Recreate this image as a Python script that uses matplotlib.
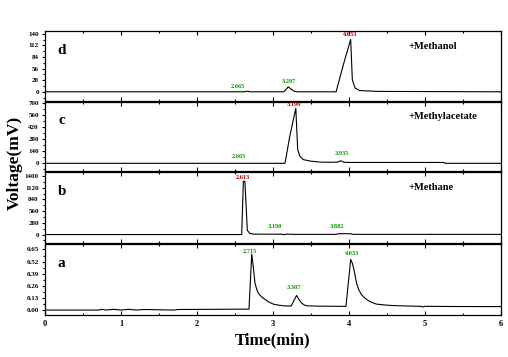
import matplotlib
matplotlib.use("Agg")
import matplotlib.pyplot as plt
from matplotlib.ticker import MultipleLocator

plt.rcParams['font.family'] = ['Liberation Serif', 'DejaVu Serif']
plt.rcParams['font.weight'] = 'bold'

# ---------------- data ----------------
# panel d : +Methanol
t_d = [0.0, 2.62, 2.665, 2.70, 3.14, 3.17, 3.20, 3.23, 3.27, 3.32, 3.83, 3.925, 4.022, 4.044, 4.08, 4.14, 4.38, 6.0]
v_d = [0.0, 0.0, 1.5, 0.0, 0.0, 5.0, 12.0, 8.0, 2.0, 0.0, 0.0, 65.0, 126.5, 29.0, 9.0, 3.0, 1.0, 0.0]

# panel c : +Methylacetate
t_c = [0.0, 3.158, 3.22, 3.30, 3.325, 3.355, 3.40, 3.49, 3.62, 3.75, 3.85, 3.89, 3.93, 3.97, 5.25, 5.26, 6.0]
v_c = [0.0, 0.0, 313.0, 643.0, 159.0, 81.0, 43.0, 26.0, 14.0, 12.0, 14.0, 30.0, 14.0, 10.0, 10.0, 0.0, 0.0]

# panel b : +Methane
t_b = [0.0, 2.588, 2.61, 2.63, 2.645, 2.662, 2.697, 2.75, 3.12, 3.15, 3.18, 3.21, 3.25, 3.83, 3.86, 4.02, 4.05, 6.0]
v_b = [0.0, 0.0, 1272.0, 1272.0, 735.0, 100.0, 24.0, 10.0, 8.0, -5.0, 14.0, 8.0, 5.0, 5.0, 20.0, 20.0, 5.0, 5.0]

# panel a
t_a = [0.0, 0.70, 0.75, 0.80, 0.90, 1.00, 1.10, 1.20, 1.30, 1.70, 1.75, 2.684, 2.72, 2.74, 2.763, 2.785,
       2.807, 2.84, 2.87, 2.92, 2.96, 3.004, 3.07, 3.135, 3.20, 3.24, 3.28, 3.31, 3.34, 3.375, 3.41,
       3.44, 3.60, 3.88, 3.96, 4.022, 4.045, 4.066, 4.085, 4.10, 4.13, 4.167, 4.21, 4.25, 4.30, 4.36,
       4.45, 4.54, 4.70, 4.95, 4.97, 4.99, 5.40, 5.94, 6.0]
v_a = [0.0, 0.0, 0.008, 0.0, 0.008, 0.0, 0.008, 0.0, 0.006, 0.0, 0.006, 0.01, 0.60, 0.466, 0.288, 0.225,
       0.181, 0.150, 0.128, 0.100, 0.080, 0.064, 0.053, 0.046, 0.043, 0.045, 0.110, 0.157, 0.115, 0.075, 0.056,
       0.046, 0.042, 0.040, 0.040, 0.543, 0.500, 0.430, 0.350, 0.288, 0.215, 0.163, 0.128, 0.103, 0.082, 0.064,
       0.056, 0.050, 0.045, 0.040, 0.032, 0.040, 0.038, 0.037, 0.037]

yt_d = [0, 28, 56, 84, 112, 140]
yt_c = [0, 140, 280, 420, 560, 700]
yt_b = [0, 280, 560, 840, 1120, 1400]
yt_a = [0.00, 0.13, 0.26, 0.39, 0.52, 0.65]
ytl_a = ['0.00', '0.13', '0.26', '0.39', '0.52', '0.65']

ylim_d = (-21, 147)
ylim_c = (-90, 723)
ylim_b = (-190, 1495)
ylim_a = (-0.053, 0.714)

# peak labels: (x, y, text, colour)
GREEN = '#009900'
RED = '#b00000'
lab_d = [(2.54, 12, '2.665', GREEN), (3.21, 24, '3.207', GREEN), (4.02, 139, '4.033', RED)]
lab_c = [(2.55, 85, '2.665', GREEN), (3.28, 690, '3.198', RED), (3.91, 115, '3.935', GREEN)]
lab_b = [(2.60, 1370, '2.613', RED), (3.02, 200, '3.190', GREEN), (3.84, 200, '3.882', GREEN)]
lab_a = [(2.70, 0.63, '2.715', GREEN), (3.28, 0.24, '3.307', GREEN), (4.035, 0.61, '4.033', GREEN)]

names = ['+Methanol', '+Methylacetate', '+Methane', '']
letters = ['d', 'c', 'b', 'a']

# ---------------- figure ----------------
W, H = 508, 357
fig = plt.figure(figsize=(W / 100, H / 100), dpi=100)

panels = [(31, 100.5), (101.5, 171), (172, 242.5), (243.5, 315)]
x0, x1 = 45, 501

data = [(t_d, v_d, yt_d, None, ylim_d, lab_d),
        (t_c, v_c, yt_c, None, ylim_c, lab_c),
        (t_b, v_b, yt_b, None, ylim_b, lab_b),
        (t_a, v_a, yt_a, ytl_a, ylim_a, lab_a)]

axes = []
for i, ((top, bot), (t, v, yt, ytl, yl, labs)) in enumerate(zip(panels, data)):
    ax = fig.add_axes([x0 / W, 1 - bot / H, (x1 - x0) / W, (bot - top) / H])
    ax.plot(t, v, color='black', lw=0.8)
    ax.set_xlim(0, 6)
    ax.set_ylim(*yl)
    ax.set_yticks(yt)
    if ytl is not None:
        ax.set_yticklabels(ytl)
    else:
        ax.set_yticklabels([str(y) for y in yt])
    ax.yaxis.set_minor_locator(MultipleLocator((yt[1] - yt[0]) / 2))
    ax.xaxis.set_major_locator(MultipleLocator(1))
    ax.xaxis.set_minor_locator(MultipleLocator(0.5))
    ax.tick_params(axis='x', which='both', direction='in', top=True, bottom=True, labelsize=6,
                   width=0.8)
    ax.tick_params(axis='x', which='major', length=3)
    ax.tick_params(axis='x', which='minor', length=1.5)
    ax.tick_params(axis='y', which='both', direction='out', labelsize=5, width=0.8, pad=2)
    ax.tick_params(axis='y', which='major', length=2.5)
    ax.tick_params(axis='y', which='minor', length=1.5)
    for lab in ax.get_yticklabels() + ax.get_xticklabels():
        lab.set_fontweight('bold')
    for s in ax.spines.values():
        s.set_linewidth(0.9)
    if i < 3:
        ax.tick_params(axis='x', labelbottom=False)
    for (lx, ly, txt, col) in labs:
        ax.text(lx, ly, txt, color=col, fontsize=4.5, fontweight='bold', ha='center', va='center')
    if names[i]:
        ax.text(4.78, yl[0] + (yl[1] - yl[0]) * 0.78, names[i], fontsize=7.5, fontweight='bold',
                ha='left', va='center')
    ax.text(0.22, yl[0] + (yl[1] - yl[0]) * 0.72, letters[i], fontsize=11, fontweight='bold',
            ha='center', va='center')
    axes.append(ax)

axes[-1].set_xlabel('Time(min)', fontsize=12, fontweight='bold', labelpad=3)
fig.text(15 / W, 1 - 163 / H, 'Voltage(mV)', rotation=90, fontsize=12.5, fontweight='bold',
         ha='center', va='center')

fig.savefig('out.png', dpi=100)
